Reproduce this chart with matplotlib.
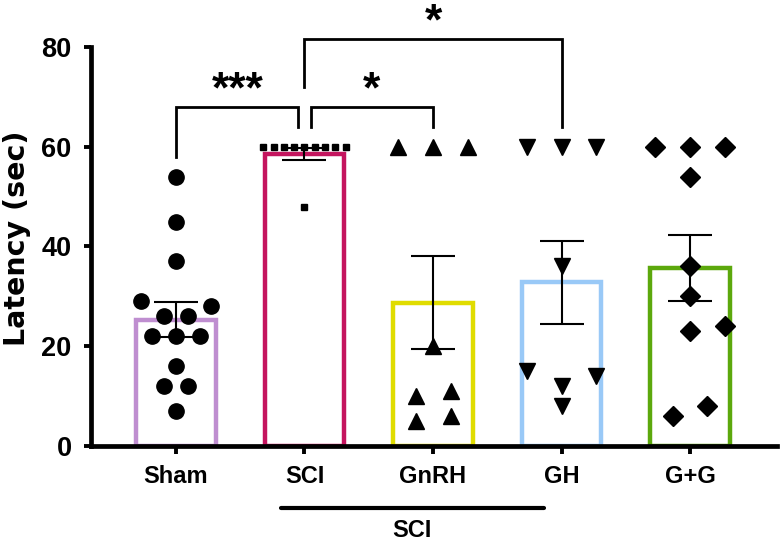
import numpy as np
import matplotlib
matplotlib.use("Agg")
import matplotlib.pyplot as plt

plt.rcParams['font.family'] = ['Liberation Sans', 'DejaVu Sans']
plt.rcParams['font.weight'] = 'bold'

# groups
groups = ["Sham", "SCI", "GnRH", "GH", "G+G"]
means = [25.35, 58.6, 28.7, 32.8, 35.7]
sems = [3.45, 1.2, 9.3, 8.35, 6.7]

# individual animals (sec)
sham_vals = [54, 45, 37, 29, 28, 26, 26, 22, 22, 22, 16, 12, 12, 7]
sham_jit = [0, 0, 0, -0.27, 0.27, -0.09, 0.09, -0.19, 0, 0.19, 0, -0.09, 0.09, 0]
sci_vals = [60, 60, 60, 60, 60, 60, 60, 60, 60, 48]
sci_jit = [-0.32, -0.24, -0.16, -0.08, 0, 0.08, 0.16, 0.24, 0.32, 0]
gnrh_vals = [60, 60, 60, 20, 10, 11, 5, 6]
gnrh_jit = [-0.27, 0, 0.27, 0, -0.13, 0.14, -0.13, 0.14]
gh_vals = [60, 60, 60, 36, 15, 14, 12, 8]
gh_jit = [-0.27, 0, 0.27, 0, -0.27, 0.27, 0, 0]
gg_vals = [60, 60, 60, 54, 36, 30, 24, 23, 8, 6]
gg_jit = [-0.27, 0, 0.27, 0, 0, 0, 0.27, 0, 0.13, -0.13]

colors = ["#bf8ed0", "#c4145e", "#e0dc00", "#99c9f7", "#5ca80c"]

fig = plt.figure(figsize=(7.8, 5.46), dpi=100)
ax = fig.add_axes([0.1167, 0.1832, 0.8795, 0.7307])

x = np.arange(len(groups))
ax.bar(x, means, width=0.62, color="white", edgecolor=colors, linewidth=3.2, zorder=1)
ax.errorbar(x, means, yerr=sems, fmt="none", ecolor="black", elinewidth=1.5,
            capsize=15.5, capthick=1.5, zorder=3)

pts = [(sham_vals, sham_jit, "o", 11),
       (sci_vals, sci_jit, "s", 4.5),
       (gnrh_vals, gnrh_jit, "^", 11),
       (gh_vals, gh_jit, "v", 11),
       (gg_vals, gg_jit, "D", 10)]
for i, (vals, jit, mk, ms) in enumerate(pts):
    ax.plot(x[i] + np.array(jit), vals, linestyle="none", marker=mk, markersize=ms,
            color="black", zorder=4, clip_on=False)

ax.set_xlim(-0.661, 4.677)
ax.set_ylim(0, 80)
ax.set_yticks([0, 20, 40, 60, 80])
ax.set_xticks(x)
ax.set_xticklabels(groups, fontsize=17, fontweight="bold")
ax.tick_params(axis="y", width=2.8, length=5, direction="out", pad=9)
ax.tick_params(axis="x", width=2.8, length=6, direction="out", pad=8)
for lab in ax.get_yticklabels():
    lab.set_fontweight("bold")
    lab.set_fontsize(19.5)
    lab.set_family(["Liberation Sans Narrow", "Liberation Sans"])
ax.set_ylabel("Latency (sec)", fontsize=20.5, fontweight="bold",
              family=["DejaVu Sans"])
ax.yaxis.set_label_coords(-0.088, 0.52)

for s in ["top", "right"]:
    ax.spines[s].set_visible(False)
for s in ["left", "bottom"]:
    ax.spines[s].set_linewidth(3.4)

# significance brackets
def bracket(x1, x2, y, h1, h2, label, tx):
    ax.plot([x1, x1, x2, x2], [h1, y, y, h2], color="black", lw=2, clip_on=False,
            solid_joinstyle="miter", zorder=5)
    ax.text(tx, y + 0.9, label, ha="center", va="baseline", fontsize=32,
            fontweight="bold", clip_on=False)

bracket(0, 0.953, 68, 58, 64, "***", 0.48)
bracket(1.047, 2, 68, 64, 64, "*", 1.52)
bracket(1, 3, 81.7, 72, 64, "*", 2.0)

# SCI group underline
ax.plot([0.82, 2.86], [-12.4, -12.4], color="black", lw=3, solid_capstyle="round",
        clip_on=False)
ax.text(1.84, -17, "SCI", ha="center", va="center", fontsize=17, fontweight="bold")

fig.savefig("out.png", dpi=100)
